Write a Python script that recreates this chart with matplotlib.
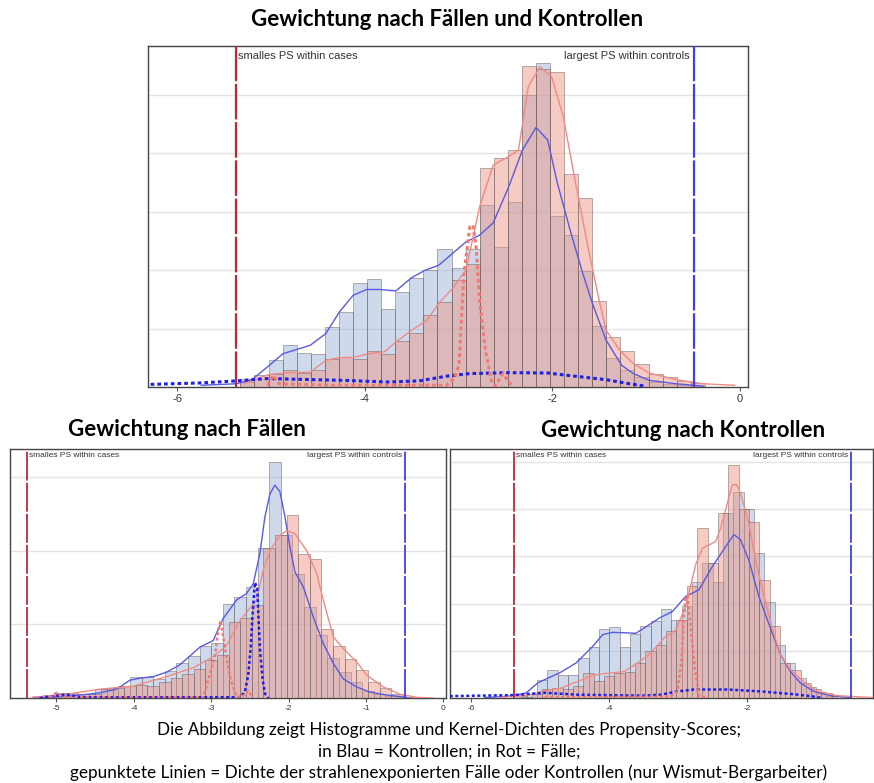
import matplotlib
matplotlib.use("Agg")
import matplotlib.pyplot as plt
import numpy as np

# ---- data ----
bin_width = 0.15
min_ps_cases = -5.375
max_ps_controls = -0.495

# top panel: Gewichtung nach Fällen und Kontrollen (percent)
top_blue_start = -5.325
top_blue = [0.17, 0.29, 0.94, 1.45, 1.18, 1.14, 2.06, 2.57, 3.57, 3.70, 2.67,
            3.26, 3.75, 4.00, 4.73, 4.06, 4.73, 6.23, 4.78, 6.33, 10.0, 11.1,
            5.86, 5.22, 3.97, 2.09, 1.01, 0.57, 0.34, 0.17, 0.09, 0.06, 0.03]
top_pink_start = -5.325
top_pink = [0.29, 0.42, 0.46, 0.57, 0.49, 0.57, 0.97, 1.03, 0.97, 1.23, 1.14,
            1.57, 1.86, 2.48, 2.91, 3.66, 4.21, 7.51, 7.86, 8.11, 11.0, 10.88,
            10.78, 7.28, 6.49, 2.94, 1.71, 1.23, 0.80, 0.46, 0.34, 0.21, 0.14]

top_kde_blue_x = [-5.743, -5.369, -5.203, -5.017, -4.871, -4.581, -4.415, -4.270,
                  -4.124, -3.979, -3.834, -3.668, -3.502, -3.357, -3.212, -3.066,
                  -2.921, -2.776, -2.631, -2.465, -2.320, -2.174, -2.050, -1.946,
                  -1.801, -1.676, -1.573, -1.427, -1.261, -1.137, -0.971, -0.680, -0.390]
top_kde_blue_y = [0.06, 0.11, 0.25, 0.74, 1.14, 1.43, 1.83, 2.57, 3.14, 3.34, 3.34,
                  3.29, 3.74, 4.00, 4.17, 4.57, 4.97, 5.20, 5.62, 6.86, 8.11, 8.89,
                  8.46, 6.97, 5.26, 3.89, 2.86, 1.60, 0.74, 0.46, 0.23, 0.11, 0.03]
top_kde_pink_x = [-5.286, -5.017, -4.830, -4.581, -4.415, -4.270, -4.124, -3.959,
                  -3.793, -3.668, -3.502, -3.336, -3.212, -3.066, -2.921, -2.776,
                  -2.631, -2.485, -2.361, -2.257, -2.133, -2.008, -1.884, -1.759,
                  -1.635, -1.510, -1.427, -1.282, -1.137, -0.971, -0.680, -0.390, -0.058]
top_kde_pink_y = [0.11, 0.43, 0.49, 0.51, 0.91, 1.01, 1.01, 1.14, 1.20, 1.54, 1.94,
                  2.29, 2.86, 3.37, 4.00, 6.17, 7.60, 7.86, 8.11, 10.29, 10.97, 10.63,
                  9.26, 7.09, 5.03, 3.09, 1.94, 1.26, 0.80, 0.48, 0.25, 0.11, 0.06]
top_exp_blue_x = [-6.282, -5.743, -5.369, -5.037, -4.664, -4.249, -3.751, -3.419,
                  -3.129, -2.880, -2.465, -2.050, -1.842, -1.427, -1.178, -1.012]
top_exp_blue_y = [0.09, 0.14, 0.21, 0.29, 0.26, 0.23, 0.17, 0.21, 0.37, 0.46, 0.49,
                  0.48, 0.40, 0.25, 0.11, 0.03]
top_exp_pink_x = [-5.037, -4.975, -4.913, -4.332, -3.129, -3.046, -2.996, -2.942,
                  -2.880, -2.846, -2.813, -2.776, -2.714, -2.651, -2.610, -2.527,
                  -2.465, -2.423]
top_exp_pink_y = [0.06, 0.40, 0.11, 0.06, 0.06, 0.29, 0.74, 3.89, 5.49, 5.54, 4.80,
                  2.97, 1.26, 0.23, 0.03, 0.46, 0.17, 0.03]

# bottom left: Gewichtung nach Fällen
bl_blue_start = -5.25
bl_blue = [0.01, 0.02, 0.05, 0.05, 0.05, 0.12, 0.14, 0.16, 0.28, 0.28, 0.26, 0.37,
           0.48, 0.57, 0.71, 0.74, 1.27, 1.37, 1.50, 2.04, 3.21, 2.21, 1.69, 1.23,
           0.86, 0.54, 0.35, 0.22, 0.10, 0.06, 0.03, 0.01]
bl_pink_start = -5.175
bl_pink = [0.04, 0.07, 0.07, 0.05, 0.06, 0.12, 0.13, 0.16, 0.17, 0.16, 0.22, 0.27,
           0.33, 0.40, 0.51, 0.58, 1.03, 1.08, 1.26, 2.03, 2.21, 2.49, 1.95, 1.89,
           0.94, 0.70, 0.53, 0.38, 0.22, 0.13, 0.05, 0.01]

bl_kde_blue_x = [-5.302, -4.871, -4.440, -4.224, -4.052, -3.922, -3.750, -3.578,
                 -3.405, -3.147, -2.974, -2.845, -2.672, -2.543, -2.457, -2.371,
                 -2.306, -2.241, -2.177, -2.112, -2.047, -1.983, -1.918, -1.810,
                 -1.681, -1.552, -1.422, -1.293, -1.121, -0.948, -0.733, -0.474]
bl_kde_blue_y = [0.01, 0.02, 0.07, 0.12, 0.24, 0.27, 0.29, 0.35, 0.45, 0.69, 0.78,
                 1.08, 1.33, 1.42, 1.55, 1.96, 2.46, 2.77, 2.89, 2.80, 2.46, 2.05,
                 1.71, 1.51, 1.10, 0.74, 0.47, 0.26, 0.15, 0.08, 0.04, 0.01]
bl_kde_pink_x = [-5.302, -4.871, -4.440, -4.009, -3.578, -3.233, -2.974, -2.802,
                 -2.629, -2.414, -2.328, -2.241, -2.112, -2.026, -1.918, -1.767,
                 -1.638, -1.552, -1.422, -1.293, -1.121, -0.991, -0.776, -0.560,
                 -0.345, -0.129]
bl_kde_pink_y = [0.01, 0.05, 0.12, 0.16, 0.29, 0.41, 0.56, 0.71, 1.05, 1.33, 1.73,
                 2.00, 2.21, 2.27, 2.23, 2.00, 1.69, 1.33, 0.83, 0.67, 0.49, 0.31,
                 0.15, 0.05, 0.01, 0.0]
bl_exp_blue_x = [-5.216, -4.871, -4.698, -2.629, -2.565, -2.522, -2.491, -2.466,
                 -2.435, -2.405, -2.371, -2.336, -2.306, -2.263]
bl_exp_blue_y = [0.0, 0.05, 0.01, 0.01, 0.08, 0.31, 0.67, 1.12, 1.57, 1.48, 0.67,
                 0.26, 0.06, 0.0]
bl_exp_pink_x = [-5.086, -5.0, -4.914, -3.103, -2.953, -2.909, -2.879, -2.823,
                 -2.759, -2.672, -2.565, -2.522, -2.466]
bl_exp_pink_y = [0.01, 0.07, 0.01, 0.01, 0.56, 0.92, 1.05, 0.69, 0.29, 0.01, 0.04,
                 0.10, 0.01]

# bottom right: Gewichtung nach Kontrollen
br_blue_start = -5.35
br_blue = [0.04, 0.08, 0.39, 0.60, 0.49, 0.49, 0.85, 1.08, 1.46, 1.51, 1.08, 1.36,
           1.53, 1.64, 1.89, 1.65, 1.94, 2.46, 2.85, 2.46, 3.91, 4.35, 4.00, 3.06,
           2.04, 1.13, 0.74, 0.42, 0.23, 0.11, 0.05, 0.01]
br_pink_start = -5.425
br_pink = [0.01, 0.03, 0.08, 0.18, 0.21, 0.20, 0.26, 0.53, 0.35, 0.46, 0.52, 0.56,
           0.74, 1.00, 1.13, 1.41, 1.65, 2.36, 3.59, 2.85, 3.92, 4.93, 4.01, 3.72,
           2.49, 1.52, 0.75, 0.60, 0.32, 0.20, 0.11, 0.05]

br_kde_blue_x = [-5.807, -5.518, -5.349, -5.205, -5.036, -4.892, -4.723, -4.482,
                 -4.241, -4.096, -3.952, -3.614, -3.422, -3.277, -3.084, -2.892,
                 -2.699, -2.506, -2.313, -2.193, -2.096, -1.976, -1.831, -1.663,
                 -1.518, -1.373, -1.229, -1.036, -0.795, -0.506]
br_kde_blue_y = [0.01, 0.03, 0.06, 0.11, 0.32, 0.42, 0.53, 0.74, 1.09, 1.34, 1.39,
                 1.37, 1.55, 1.69, 1.83, 2.15, 2.29, 2.78, 3.20, 3.46, 3.35, 2.92,
                 2.15, 1.48, 0.92, 0.56, 0.32, 0.14, 0.05, 0.01]
br_kde_pink_x = [-5.614, -5.181, -4.940, -4.699, -4.458, -4.217, -3.976, -3.783,
                 -3.590, -3.398, -3.205, -3.036, -2.892, -2.747, -2.651, -2.554,
                 -2.458, -2.386, -2.313, -2.217, -2.154, -2.096, -1.976, -1.880,
                 -1.759, -1.639, -1.518, -1.373, -1.181, -0.988, -0.699, -0.183]
br_kde_pink_y = [0.01, 0.06, 0.15, 0.21, 0.35, 0.49, 0.53, 0.56, 0.74, 0.95, 1.27,
                 1.44, 1.94, 2.82, 3.17, 3.24, 3.31, 3.59, 3.98, 4.51, 4.52, 4.33,
                 3.70, 2.92, 2.18, 1.48, 0.92, 0.60, 0.35, 0.15, 0.05, 0.01]
br_exp_blue_x = [-6.313, -5.422, -4.940, -4.458, -3.976, -3.494, -3.253, -3.012,
                 -2.771, -2.289, -1.807, -1.325, -1.084, -0.940]
br_exp_blue_y = [0.04, 0.06, 0.11, 0.07, 0.06, 0.05, 0.07, 0.14, 0.18, 0.18, 0.14,
                 0.08, 0.04, 0.01]
br_exp_pink_x = [-4.940, -3.108, -3.012, -2.954, -2.916, -2.892, -2.867, -2.819,
                 -2.747, -2.699, -2.578]
br_exp_pink_y = [0.01, 0.03, 0.14, 0.77, 1.76, 2.15, 2.15, 1.48, 0.49, 0.04, 0.01]

caption = ["Die Abbildung zeigt Histogramme und Kernel-Dichten des Propensity-Scores;",
           "in Blau = Kontrollen; in Rot = Fälle;",
           "gepunktete Linien = Dichte der strahlenexponierten Fälle oder Kontrollen (nur Wismut-Bergarbeiter)"]

# ---- style ----
BAR_BLUE = (0.61, 0.69, 0.85)
BAR_PINK = (0.92, 0.58, 0.52)
EDGE = "#665c5c"
KDE_BLUE = "#5a5ae0"
KDE_PINK = "#f08a84"
DOT_BLUE = "#1f1fe8"
DOT_PINK = "#f07a72"
RED_LINE = "#b8293c"
BLUE_LINE = "#4040e6"
title_font = "Lato"
axis_font = "Liberation Sans"


def draw_panel(ax, blue_start, blue, pink_start, pink, kde_b, kde_p, exp_b, exp_p,
               xlim, ylim, ystep, xticks, fs, line_w, dot_w):
    eb = blue_start + bin_width * np.arange(len(blue))
    ep = pink_start + bin_width * np.arange(len(pink))
    ax.bar(eb, blue, width=bin_width, align="edge", color=BAR_BLUE, alpha=0.48,
           edgecolor=EDGE, linewidth=0.7, zorder=2)
    ax.bar(ep, pink, width=bin_width, align="edge", color=BAR_PINK, alpha=0.48,
           edgecolor=EDGE, linewidth=0.7, zorder=3)
    ax.plot(kde_b[0], kde_b[1], color=KDE_BLUE, lw=1.0, zorder=5)
    ax.plot(kde_p[0], kde_p[1], color=KDE_PINK, lw=1.0, zorder=5)
    ax.plot(exp_b[0], exp_b[1], color=DOT_BLUE, lw=dot_w, ls=(0, (1.2, 1.0)), zorder=6)
    ax.plot(exp_p[0], exp_p[1], color=DOT_PINK, lw=dot_w, ls=(0, (1.2, 1.0)), zorder=6)
    ax.axvline(min_ps_cases, color=RED_LINE, lw=line_w, ls=(0, (16, 1.2)), zorder=7)
    ax.axvline(max_ps_controls, color=BLUE_LINE, lw=line_w, ls=(0, (16, 1.2)), zorder=7)
    tr = ax.get_xaxis_transform()
    ax.text(min_ps_cases + 0.02, 0.972, "smalles PS within cases", transform=tr,
            ha="left", va="center", fontsize=fs, color="#333333", family=axis_font)
    ax.text(max_ps_controls - 0.04, 0.972, "largest PS within controls", transform=tr,
            ha="right", va="center", fontsize=fs, color="#333333", family=axis_font)
    ax.set_xlim(*xlim)
    ax.set_ylim(*ylim)
    ax.set_yticks(np.arange(ystep, ylim[1], ystep))
    ax.yaxis.grid(True, color="#e4e4e4", lw=1.0, zorder=0)
    ax.set_axisbelow(True)
    ax.tick_params(axis="y", length=0, labelleft=False)
    ax.set_xticks(xticks)
    ax.set_xticklabels([str(t) for t in xticks], family=axis_font)
    ax.tick_params(axis="x", length=3, width=0.8, color="#555555", labelsize=fs,
                   labelcolor="#333333", pad=2)
    for s in ax.spines.values():
        s.set_color("#444444")
        s.set_linewidth(1.0)


fig = plt.figure(figsize=(8.74, 7.83), dpi=100)

ax_top = fig.add_axes([148 / 874, 1 - 387 / 783, 600 / 874, 341 / 783])
draw_panel(ax_top, top_blue_start, top_blue, top_pink_start, top_pink,
           (top_kde_blue_x, top_kde_blue_y), (top_kde_pink_x, top_kde_pink_y),
           (top_exp_blue_x, top_exp_blue_y), (top_exp_pink_x, top_exp_pink_y),
           (-6.31, 0.085), (0, 11.68), 2, [-6, -4, -2, 0], 8, 1.6, 2.2)

ax_bl = fig.add_axes([10 / 874, 1 - 698 / 783, 436 / 874, 249 / 783])
draw_panel(ax_bl, bl_blue_start, bl_blue, bl_pink_start, bl_pink,
           (bl_kde_blue_x, bl_kde_blue_y), (bl_kde_pink_x, bl_kde_pink_y),
           (bl_exp_blue_x, bl_exp_blue_y), (bl_exp_pink_x, bl_exp_pink_y),
           (-5.60, 0.034), (0, 3.38), 1, [-5, -4, -3, -2, -1, 0], 6, 1.3, 1.8)

ax_br = fig.add_axes([450 / 874, 1 - 698 / 783, 423 / 874, 249 / 783])
draw_panel(ax_br, br_blue_start, br_blue, br_pink_start, br_pink,
           (br_kde_blue_x, br_kde_blue_y), (br_kde_pink_x, br_kde_pink_y),
           (br_exp_blue_x, br_exp_blue_y), (br_exp_pink_x, br_exp_pink_y),
           (-6.31, -0.175), (0, 5.27), 1, [-6, -4, -2], 6, 1.3, 1.8)

fig.text(447 / 874, 1 - 20 / 783, "Gewichtung nach Fällen und Kontrollen", ha="center",
         va="center", fontsize=16, fontweight="bold", family=title_font)
fig.text(187 / 874, 1 - 430 / 783, "Gewichtung nach Fällen", ha="center",
         va="center", fontsize=16, fontweight="bold", family=title_font)
fig.text(683 / 874, 1 - 431 / 783, "Gewichtung nach Kontrollen", ha="center",
         va="center", fontsize=16, fontweight="bold", family=title_font)
for i, line in enumerate(caption):
    fig.text(449 / 874, 1 - (730 + 21.5 * i) / 783, line, ha="center", va="center",
             fontsize=12.3, family=title_font)

fig.savefig("out.png", dpi=100)
